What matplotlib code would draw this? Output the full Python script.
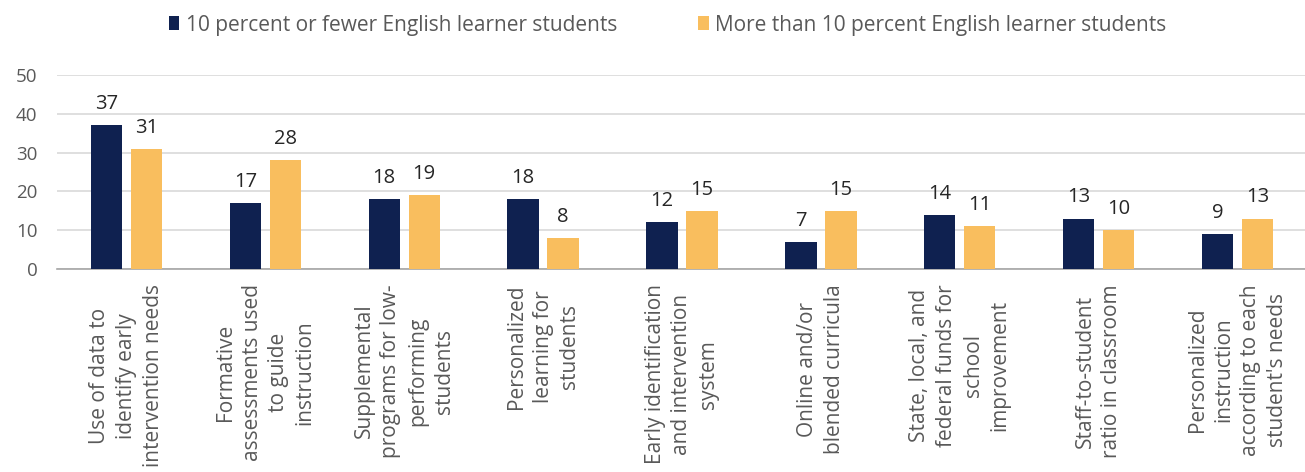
import numpy as np
import matplotlib
matplotlib.use("Agg")
import matplotlib.pyplot as plt

plt.rcParams['font.family'] = ['Open Sans', 'DejaVu Sans']

categories = [
    "Use of data to\nidentify early\nintervention needs",
    "Formative\nassessments used\nto guide\ninstruction",
    "Supplemental\nprograms for low-\nperforming\nstudents",
    "Personalized\nlearning for\nstudents",
    "Early identification\nand intervention\nsystem",
    "Online and/or\nblended curricula",
    "State, local, and\nfederal funds for\nschool\nimprovement",
    "Staff-to-student\nratio in classroom",
    "Personalized\ninstruction\naccording to each\nstudent's needs",
]
fewer_el = [37, 17, 18, 18, 12, 7, 14, 13, 9]
more_el = [31, 28, 19, 8, 15, 15, 11, 10, 13]
series_names = ["10 percent or fewer English learner students",
                "More than 10 percent English learner students"]
yticks = [0, 10, 20, 30, 40, 50]

navy = "#0f2150"
gold = "#f9be5e"
grey_txt = "#595959"

fig = plt.figure(figsize=(13.05, 4.72), dpi=100)
ax = fig.add_axes([57 / 1305, 1 - 269 / 472, 1250 / 1305, 194 / 472])

x = np.arange(len(categories))
w = 0.225
off = 0.144
b1 = ax.bar(x - off, fewer_el, w, color=navy, label=series_names[0], zorder=3)
b2 = ax.bar(x + off, more_el, w, color=gold, label=series_names[1], zorder=3)

# value labels above every bar
for bars in (b1, b2):
    for rect in bars:
        h = rect.get_height()
        ax.annotate(f"{h:g}", (rect.get_x() + rect.get_width() / 2, h),
                    xytext=(0, 8), textcoords="offset points",
                    ha="center", va="bottom", fontsize=14.5, color="#262626")

ax.set_xlim(-0.5, len(categories) - 0.5)
ax.set_ylim(0, 50)
ax.set_yticks(yticks)
ax.yaxis.grid(True, color="#d9d9d9", lw=1.2, zorder=0)
ax.set_axisbelow(True)
for s in ("top", "right", "left"):
    ax.spines[s].set_visible(False)
ax.spines["bottom"].set_color("#a6a6a6")
ax.spines["bottom"].set_linewidth(1.2)

ax.set_xticks(x)
ax.set_xticklabels(categories, rotation=90, ha="center", va="top",
                   multialignment="center", fontsize=15, color=grey_txt,
                   linespacing=1.35)
ax.tick_params(axis="x", length=0, pad=11)
ax.tick_params(axis="y", length=0, pad=14, labelsize=13.5, labelcolor=grey_txt)

fig.legend(handles=[b1, b2], loc="center", bbox_to_anchor=(0.5115, 1 - 25 / 472),
           ncol=2, frameon=False, fontsize=15, labelcolor=grey_txt,
           handlelength=0.5, handleheight=0.65, handletextpad=0.3,
           columnspacing=3.9)

fig.savefig("out.png", dpi=100)
